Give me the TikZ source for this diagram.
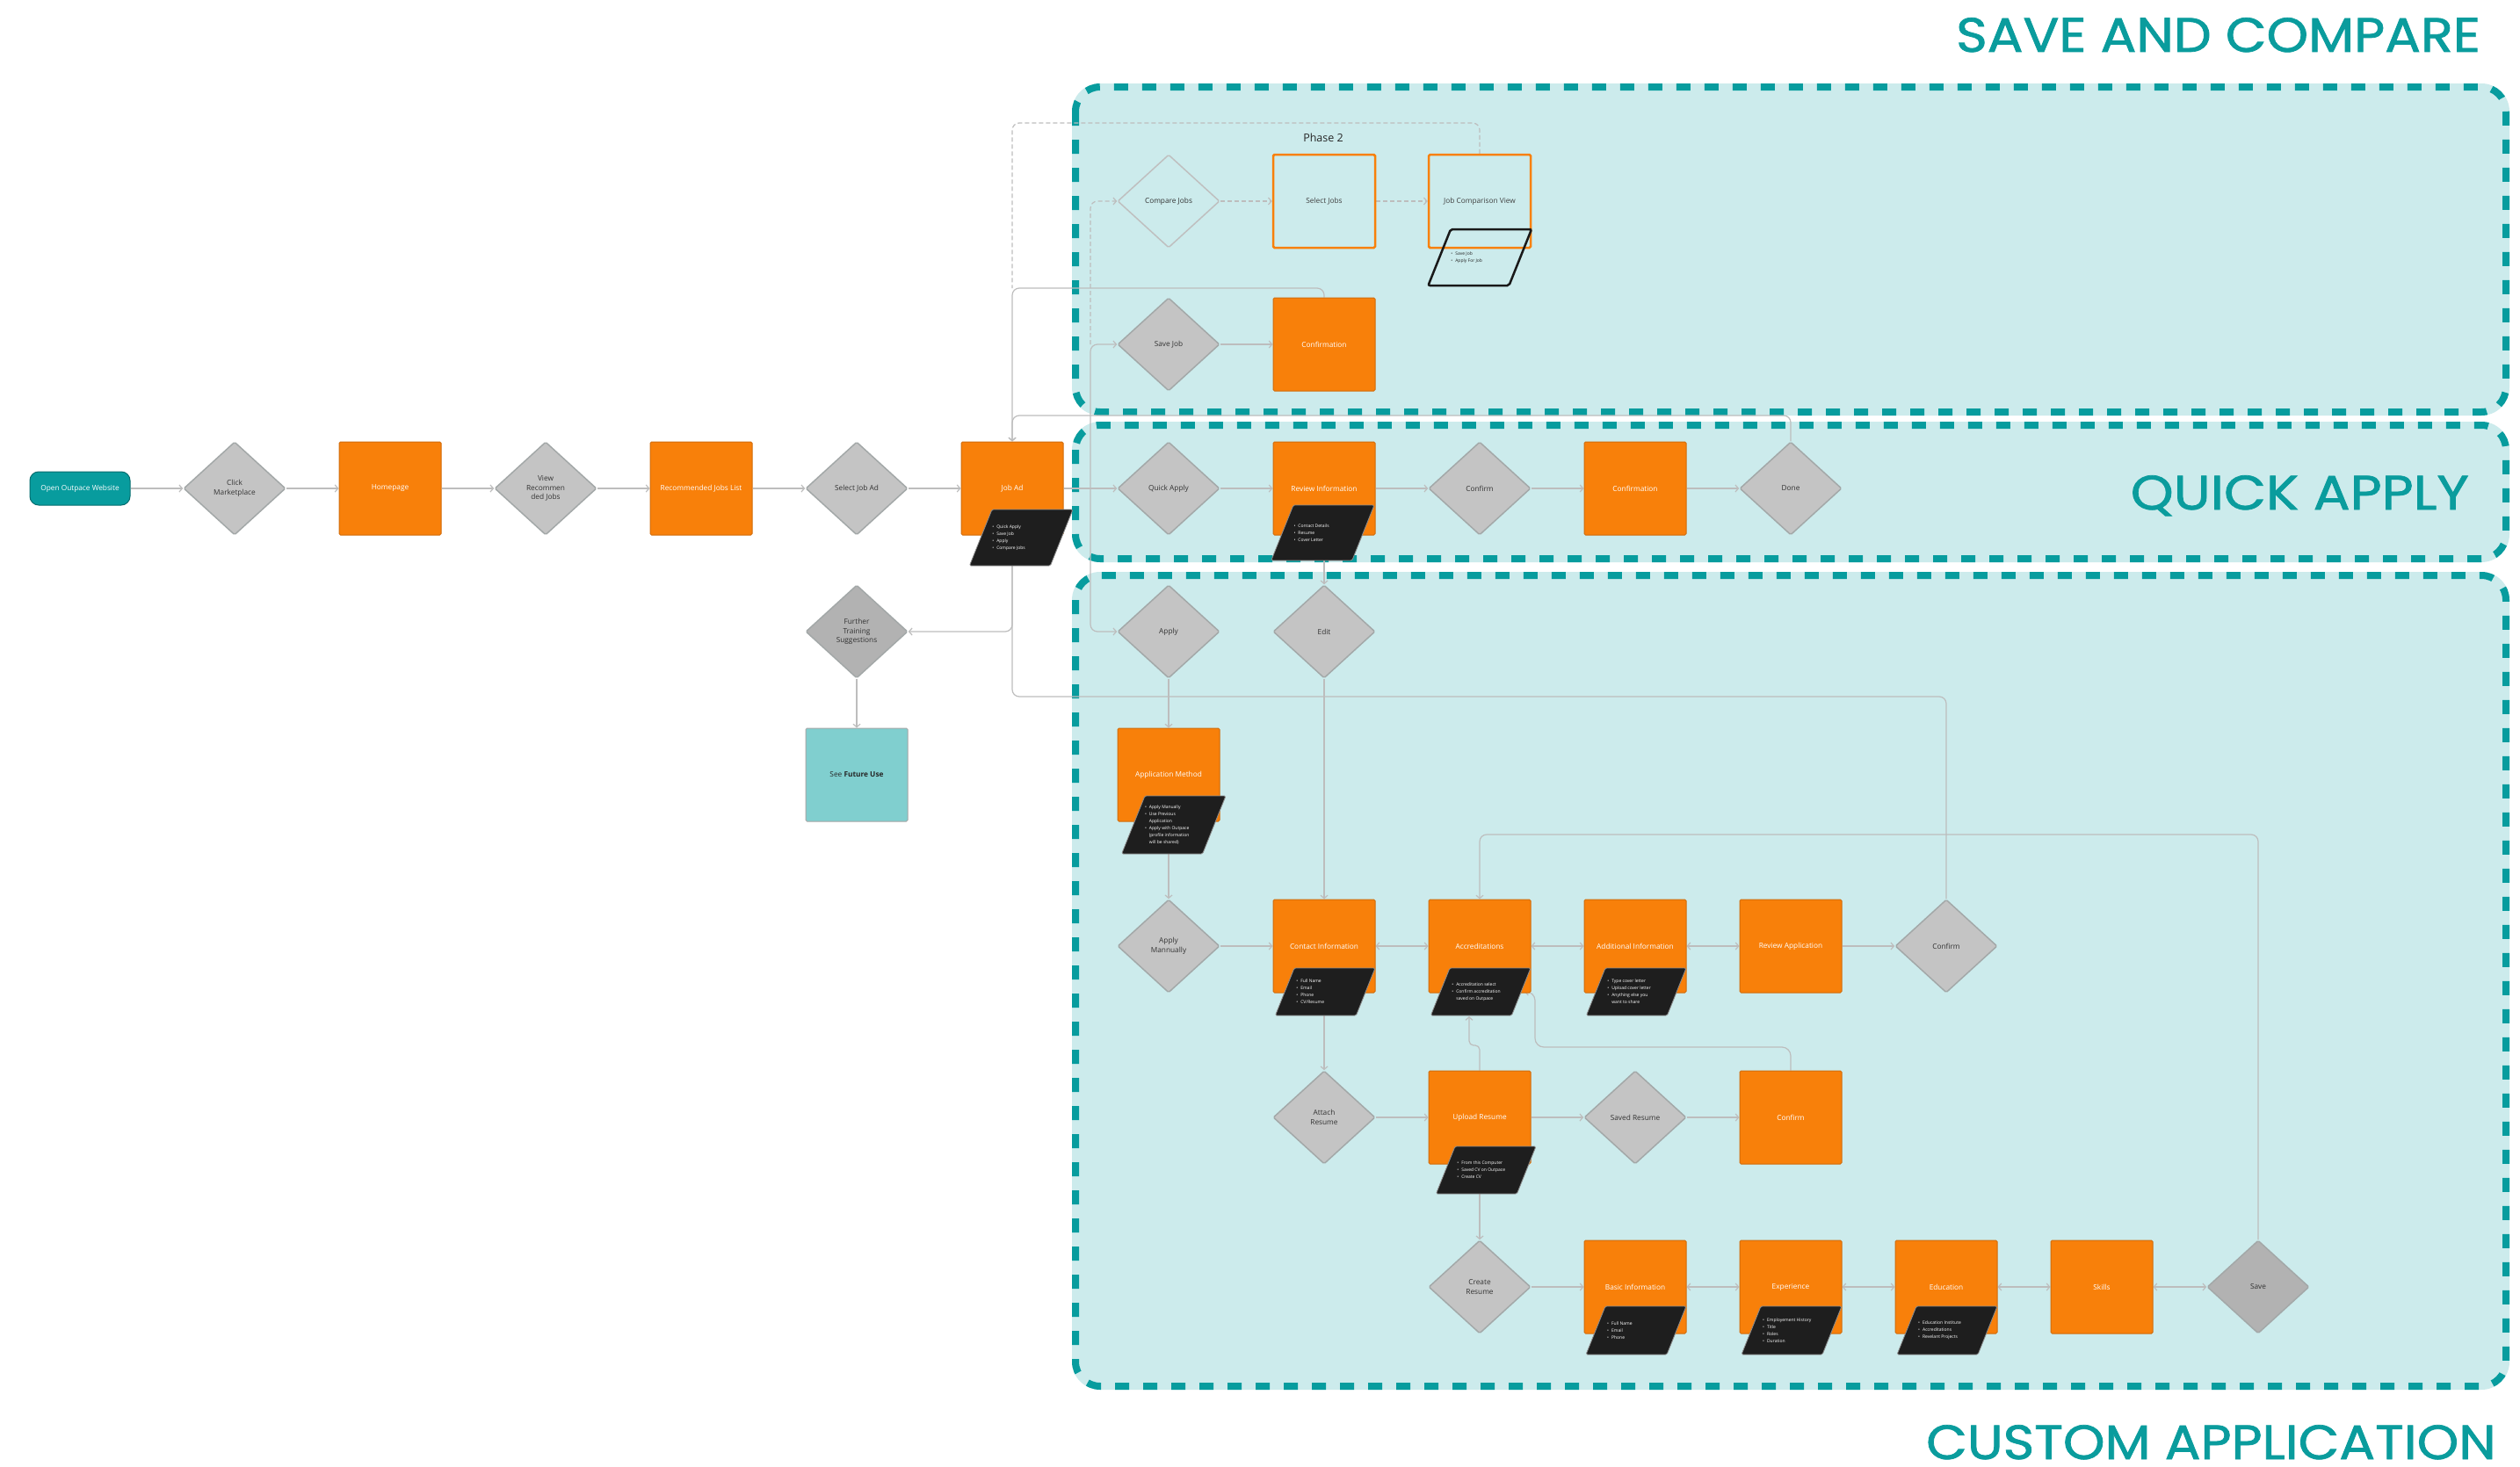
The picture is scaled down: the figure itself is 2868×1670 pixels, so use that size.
\documentclass[tikz,border=0pt]{standalone}
\usepackage{fontspec}
\setmainfont{Open Sans}
\newfontfamily\titlefont{Poppins}[FakeBold=1.3]
\usetikzlibrary{shapes.geometric,arrows.meta,calc}
\definecolor{orng}{HTML}{F8800A}
\definecolor{orngd}{HTML}{D06C0C}
\definecolor{gdia}{HTML}{C4C4C4}
\definecolor{gdiad}{HTML}{B2B2B2}
\definecolor{gbord}{HTML}{A3A8A8}
\definecolor{lnc}{HTML}{BDBDBD}
\definecolor{regfill}{HTML}{CCEBEC}
\definecolor{regline}{HTML}{079C9E}
\definecolor{ttl}{HTML}{0A9C9D}
\definecolor{notefill}{HTML}{1E1E1E}
\definecolor{futfill}{HTML}{80CFCF}
\definecolor{startfill}{HTML}{089C9E}
\pgfdeclarelayer{bg}\pgfdeclarelayer{lines}\pgfsetlayers{bg,lines,main}
\newcommand\nbul{\textbullet\hspace{3pt}}
\newcommand\ncont{\hphantom{\textbullet}\hspace{3pt}}
\newcommand\mknote[7]{%
  \pgfmathsetmacro\nh{#4-#3}%
  \pgfmathsetmacro\nsk{0.4*\nh}%
  \pgfmathsetmacro\ntl{#2-92}%
  \pgfmathsetmacro\nmy{(#3+#4)/2}%
  \pgfmathsetmacro\ntx{\ntl-\nsk/2+13}%
  \path[#5] (\ntl,#3) -- (#2,#3) -- (#2-\nsk,#4) -- (\ntl-\nsk,#4) -- cycle;
  \node[notetext,#6,anchor=west] (#1) at (\ntx,\nmy) {#7};%
}
\tikzset{
  box/.style={rectangle, minimum width=116pt, minimum height=106pt, inner sep=0pt, fill=orng, draw=orngd, line width=1pt, text=white, font=\fontsize{8.3}{10}\selectfont, rounded corners=1.5pt, align=center},
  outbox/.style={rectangle, minimum width=116pt, minimum height=106pt, inner sep=0pt, draw=orng, line width=2.5pt, text=black!75, font=\fontsize{8.3}{10}\selectfont, rounded corners=1.5pt},
  dia/.style={diamond, minimum width=116pt, minimum height=106pt, inner sep=0pt, fill=gdia, draw=gbord, line width=1.5pt, text=black!80, font=\fontsize{8.3}{10.5}\selectfont, align=center, rounded corners=1.5pt},
  diadark/.style={dia, fill=gdiad},
  diaout/.style={dia, fill=none, draw=black!25},
  futbox/.style={box, fill=futfill, draw=black!35, text=black!85},
  startbox/.style={rectangle, minimum width=114pt, minimum height=38pt, inner sep=0pt, fill=startfill, draw=black!30!startfill, line width=1pt, text=white, font=\fontsize{8.3}{10}\selectfont, rounded corners=10pt},
  notetext/.style={inner sep=0pt, align=left, font=\fontsize{5}{8}\selectfont},
  notef/.style={fill=notefill, draw=black!45, line width=0.8pt, rounded corners=1.5pt},
  noteo/.style={draw=black!90, line width=2.5pt, rounded corners=2pt},
  conn/.style={draw=lnc, line width=1.2pt, rounded corners=8pt},
  arr/.style={-{Straight Barb[length=3.5pt,width=8pt]}},
  darr/.style={{Straight Barb[length=3.5pt,width=8pt]}-{Straight Barb[length=3.5pt,width=8pt]}},
  dsh/.style={dash pattern=on 5pt off 3pt},
  regfillst/.style={fill=regfill, rounded corners=32pt},
  regline st/.style={draw=regline, line width=8pt, dash pattern=on 16pt off 16pt, rounded corners=28pt},
  title/.style={text=ttl, font=\titlefont\fontsize{55}{60}\selectfont, inner sep=0pt}
}
\begin{document}
\begin{tikzpicture}[x=1pt,y=-1pt]
\useasboundingbox (0,0) rectangle (2868,1670);
\begin{pgfonlayer}{bg}
  \fill[white] (0,0) rectangle (2868,1670);
  \path[regfillst] (1220,95) rectangle (2856,473);
  \path[regline st] (1224,99) rectangle (2852,469);
  \path[regfillst] (1220,480) rectangle (2856,640);
  \path[regline st] (1224,484) rectangle (2852,636);
  \path[regfillst] (1220,651) rectangle (2856,1582);
  \path[regline st] (1224,655) rectangle (2852,1578);
\end{pgfonlayer}

% titles
\node[title, anchor=base east] (tsave) at (2823,59) {\scalebox{1.1}[1]{SAVE AND COMPARE}};
\node[title, anchor=base east] (tquick) at (2810,580) {\scalebox{1.13}[1]{QUICK APPLY}};
\node[title, anchor=base east] (tcustom) at (2841,1661) {\scalebox{1.1}[1]{CUSTOM APPLICATION}};
\node[font=\fontsize{12.5}{14}\selectfont, text=black!85, inner sep=0pt] (phase) at (1506,157) {Phase 2};

% main row
\node[startbox] (start) at (91,556) {Open Outpace Website};
\node[dia] (click) at (267,556) {Click\\Marketplace};
\node[box] (home) at (444,556) {Homepage};
\node[dia] (viewrec) at (621,556) {View\\Recommen\\ded Jobs};
\node[box] (reclist) at (798,556) {Recommended Jobs List};
\node[dia] (selad) at (975,556) {Select Job Ad};
\node[box] (jobad) at (1152,556) {Job Ad};
\node[diadark] (further) at (975,719) {Further\\Training\\Suggestions};
\node[futbox] (future) at (975,882) {See \textbf{Future Use}};

% quick apply
\node[dia] (quick) at (1330,556) {Quick Apply};
\node[box] (review) at (1507,556) {Review Information};
\node[dia] (qconfirm) at (1684,556) {Confirm};
\node[box] (qconfirmation) at (1861,556) {Confirmation};
\node[dia] (done) at (2038,556) {Done};

% save and compare
\node[diaout] (compare) at (1330,229) {Compare Jobs};
\node[outbox] (selectjobs) at (1507,229) {Select Jobs};
\node[outbox] (jcv) at (1684,229) {Job Comparison View};
\node[dia] (savejob) at (1330,392) {Save Job};
\node[box] (sconfirmation) at (1507,392) {Confirmation};

% custom application
\node[dia] (apply) at (1330,719) {Apply};
\node[dia] (edit) at (1507,719) {Edit};
\node[box] (appmeth) at (1330,882) {Application Method};
\node[dia] (applyman) at (1330,1077) {Apply\\Mannually};
\node[box] (contact) at (1507,1077) {Contact Information};
\node[box] (accr) at (1684,1077) {Accreditations};
\node[box] (addinfo) at (1861,1077) {Additional Information};
\node[box] (reviewapp) at (2038,1077) {Review Application};
\node[dia] (cconfirm) at (2215,1077) {Confirm};
\node[dia] (attach) at (1507,1272) {Attach\\Resume};
\node[box] (upload) at (1684,1272) {Upload Resume};
\node[dia] (savedres) at (1861,1272) {Saved Resume};
\node[box] (rconfirm) at (2038,1272) {Confirm};
\node[dia] (create) at (1684,1465) {Create\\Resume};
\node[box] (basic) at (1861,1465) {Basic Information};
\node[box] (exp) at (2038,1465) {Experience};
\node[box] (edu) at (2215,1465) {Education};
\node[box] (skills) at (2392,1465) {Skills};
\node[diadark] (save) at (2570,1465) {Save};

% notes
\mknote{njobad}{1221}{580}{644}{notef}{text=white}{\nbul Quick Apply\\\nbul Save Job\\\nbul Apply\\\nbul Compare Jobs}
\mknote{nreview}{1564}{575}{638}{notef}{text=white}{\nbul Contact Details\\\nbul Resume\\\nbul Cover Letter}
\mknote{njcv}{1743}{261}{325}{noteo}{text=black!85}{\nbul Save Job\\\nbul Apply For Job}
\mknote{nappmeth}{1395}{906}{972}{notef}{text=white}{\nbul Apply Manually\\\nbul Use Previous\\\ncont Application\\\nbul Apply with Outpace\\\ncont (profile information\\\ncont will be shared)}
\mknote{ncontact}{1565}{1102}{1156}{notef}{text=white}{\nbul Full Name\\\nbul Email\\\nbul Phone\\\nbul CV/Resume}
\mknote{naccr}{1742}{1102}{1156}{notef}{text=white}{\nbul Accreditation select\\\nbul Confirm accreditation\\\ncont saved on Outpace}
\mknote{naddinfo}{1919}{1102}{1156}{notef}{text=white}{\nbul Type cover letter\\\nbul Upload cover letter\\\nbul Anything else you\\\ncont want to share}
\mknote{nupload}{1748}{1305}{1359}{notef}{text=white}{\nbul From this Computer\\\nbul Saved CV on Outpace\\\nbul Create CV}
\mknote{nbasic}{1919}{1487}{1542}{notef}{text=white}{\nbul Full Name\\\nbul Email\\\nbul Phone}
\mknote{nexp}{2096}{1487}{1542}{notef}{text=white}{\nbul Employement History\\\nbul Title\\\nbul Roles\\\nbul Duration}
\mknote{nedu}{2273}{1487}{1542}{notef}{text=white}{\nbul Education Institute\\\nbul Accreditations\\\nbul Revelant Projects}

\coordinate (branch) at (1241,556);
\begin{pgfonlayer}{lines}
  % main row
  \draw[conn,arr] (start) -- (click);
  \draw[conn,arr] (click) -- (home);
  \draw[conn,arr] (home) -- (viewrec);
  \draw[conn,arr] (viewrec) -- (reclist);
  \draw[conn,arr] (reclist) -- (selad);
  \draw[conn,arr] (selad) -- (jobad);
  \draw[conn,arr] (jobad) -- (quick);
  \draw[conn,arr] (branch) |- (savejob.west);
  \draw[conn,arr] (branch) |- (apply.west);
  \draw[conn,arr,dsh] (1241,392) |- (compare.west);
  % quick apply
  \draw[conn,arr] (quick) -- (review);
  \draw[conn,arr] (review) -- (qconfirm);
  \draw[conn,arr] (qconfirm) -- (qconfirmation);
  \draw[conn,arr] (qconfirmation) -- (done);
  % save and compare
  \draw[conn,arr,dsh] (compare) -- (selectjobs);
  \draw[conn,arr,dsh] (selectjobs) -- (jcv);
  \draw[conn,arr] (savejob) -- (sconfirmation);
  \draw[conn,arr] (sconfirmation.north) |- (1152,328) -- (jobad.north);
  \draw[conn,arr] (done.north) |- (1152,473) -- (jobad.north);
  \draw[conn,dsh] (jcv.north) |- (1152,140) -- (1152,328);
  % returns and side branches
  \draw[conn] (cconfirm.north) |- (1152,793) -- (1152,644);
  \draw[conn,arr] (1152,644) |- (further.east);
  \draw[conn,arr] (further) -- (future);
  \draw[conn,arr] (1507,638) -- (edit.north);
  \draw[conn,arr] (edit) -- (contact);
  \draw[conn,arr] (apply) -- (appmeth);
  \draw[conn,arr] (1330,972) -- (applyman.north);
  % custom application
  \draw[conn,arr] (applyman) -- (contact);
  \draw[conn,darr] (contact) -- (accr);
  \draw[conn,darr] (accr) -- (addinfo);
  \draw[conn,darr] (addinfo) -- (reviewapp);
  \draw[conn,arr] (reviewapp) -- (cconfirm);
  \draw[conn,arr] (save.north) |- (1684,950) -- (accr.north);
  \draw[conn,arr] (1507,1156) -- (attach.north);
  \draw[conn,arr] (attach) -- (upload);
  \draw[conn,arr] (upload) -- (savedres);
  \draw[conn,arr] (savedres) -- (rconfirm);
  \draw[conn,arr,rounded corners=5pt] (upload.north) -- (1684,1190) -- (1672,1190) -- (1672,1157);
  \draw[conn,arr,rounded corners=10pt] (rconfirm.north) |- (1747,1192) -- (1747,1129) -- (1735,1129);
  \draw[conn,arr] (1684,1359) -- (create.north);
  \draw[conn,arr] (create) -- (basic);
  \draw[conn,darr] (basic) -- (exp);
  \draw[conn,darr] (exp) -- (edu);
  \draw[conn,darr] (edu) -- (skills);
  \draw[conn,darr] (skills) -- (save);
\end{pgfonlayer}
\end{tikzpicture}
\end{document}
